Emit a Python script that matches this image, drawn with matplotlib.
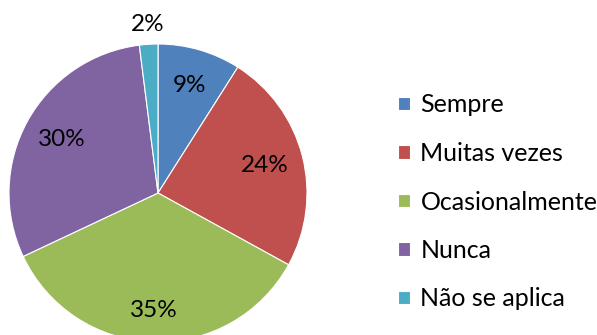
import matplotlib
matplotlib.use("Agg")
import matplotlib.pyplot as plt
import numpy as np

categories = ["Sempre", "Muitas vezes", "Ocasionalmente", "Nunca", "Não se aplica"]
values = [9, 24, 35, 30, 2]
colors = ["#4F81BD", "#C0504D", "#9BBB59", "#8064A2", "#4BACC6"]
label_dist = [0.75, 0.74, 0.79, 0.74, 1.13]

plt.rcParams["font.family"] = ["Lato", "DejaVu Sans"]

W, H = 597, 335
fig = plt.figure(figsize=(W / 100, H / 100), dpi=100)
fig.patch.set_facecolor("white")

cx, cy, r = 158, 193, 149
ax = fig.add_axes([(cx - r) / W, (H - cy - r) / H, 2 * r / W, 2 * r / H])
wedges, _ = ax.pie(values, colors=colors, startangle=90, counterclock=False,
                   radius=1, wedgeprops=dict(edgecolor="white", linewidth=0.8))
ax.set_xlim(-1, 1)
ax.set_ylim(-1, 1)
ax.set_aspect("auto")
ax.axis("off")

total = sum(values)
for w, v, d in zip(wedges, values, label_dist):
    ang = np.deg2rad((w.theta1 + w.theta2) / 2)
    ax.text(d * np.cos(ang), d * np.sin(ang), f"{round(100 * v / total)}%",
            ha="center", va="center", fontsize=17.5, color="black", clip_on=False)

leg = fig.legend(wedges, categories, loc="center left",
                 bbox_to_anchor=(388 / W, 1 - 202 / H), frameon=False,
                 fontsize=18, handlelength=0.47, handleheight=0.47,
                 handletextpad=0.43, labelspacing=1.02, borderaxespad=0)

fig.savefig("out.png", dpi=100, facecolor="white")
